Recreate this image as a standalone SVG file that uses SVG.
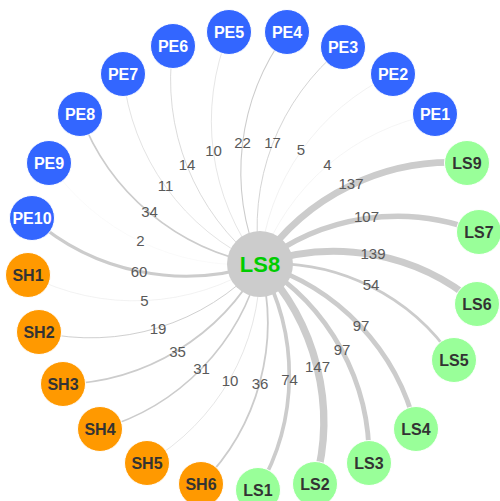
<svg xmlns="http://www.w3.org/2000/svg" width="500" height="501" viewBox="0 0 500 501">
<style>
.e{fill:none;stroke:#cccccc}
.el{font-family:"Liberation Sans",Arial,sans-serif;font-size:15px;fill:#595959;text-anchor:middle}
.n circle{stroke:#ffffff;stroke-width:1}
.n text{font-family:"Liberation Sans",Arial,sans-serif;font-size:16px;font-weight:bold;text-anchor:middle}
.pe circle{fill:#3366ff}.pe text{fill:#ffffff}
.sh circle{fill:#ff9900}.sh text{fill:#333333}
.ls circle{fill:#99ff99}.ls text{fill:#333333}
</style>
<rect width="500" height="501" fill="#ffffff"/>
<g id="connectors">
<path class="e" stroke-width="0.2" d="M260,264 A230.5,230.5 0 0,1 435,114"/>
<path class="e" stroke-width="0.25" d="M260,264 A231.9,231.9 0 0,1 393,74"/>
<path class="e" stroke-width="0.85" d="M260,264 A232.3,232.3 0 0,1 343,47"/>
<path class="e" stroke-width="1.1" d="M260,264 A233.6,233.6 0 0,1 287,32"/>
<path class="e" stroke-width="0.5" d="M260,264 A234.1,234.1 0 0,1 229,32"/>
<path class="e" stroke-width="0.7" d="M260,264 A234.7,234.7 0 0,1 173,46"/>
<path class="e" stroke-width="0.55" d="M260,264 A234.2,234.2 0 0,1 123,74"/>
<path class="e" stroke-width="1.7" d="M260,264 A234.3,234.3 0 0,1 80,114"/>
<path class="e" stroke-width="0.1" d="M260,264 A233.9,233.9 0 0,1 49,163"/>
<path class="e" stroke-width="3" d="M260,264 A232.6,232.6 0 0,1 32,218"/>
<path class="e" stroke-width="0.25" d="M260,264 A232.3,232.3 0 0,1 28,275"/>
<path class="e" stroke-width="0.95" d="M260,264 A231.2,231.2 0 0,1 39,332"/>
<path class="e" stroke-width="1.75" d="M260,264 A230.7,230.7 0 0,1 63,384"/>
<path class="e" stroke-width="1.55" d="M260,264 A229.8,229.8 0 0,1 100,429"/>
<path class="e" stroke-width="0.5" d="M260,264 A228.8,228.8 0 0,1 147,463"/>
<path class="e" stroke-width="1.8" d="M260,264 A227.8,227.8 0 0,1 201,484"/>
<path class="e" stroke-width="3.7" d="M260,264 A226,226 0 0,1 258,490"/>
<path class="e" stroke-width="7.35" d="M260,264 A226.8,226.8 0 0,1 315,484"/>
<path class="e" stroke-width="4.85" d="M260,264 A226.9,226.9 0 0,1 369,463"/>
<path class="e" stroke-width="4.85" d="M260,264 A227.1,227.1 0 0,1 416,429"/>
<path class="e" stroke-width="2.7" d="M260,264 A216.5,216.5 0 0,1 454,360"/>
<path class="e" stroke-width="6.95" d="M260,264 A220.7,220.7 0 0,1 477,304"/>
<path class="e" stroke-width="5.35" d="M260,264 A221.3,221.3 0 0,1 479,232"/>
<path class="e" stroke-width="6.85" d="M260,264 A230.3,230.3 0 0,1 467,163"/>
</g>
<g id="edge-labels">
<text class="el" x="327.5" y="170">4</text>
<text class="el" x="301" y="155">5</text>
<text class="el" x="272.5" y="148">17</text>
<text class="el" x="242.5" y="148">22</text>
<text class="el" x="213.5" y="155.5">10</text>
<text class="el" x="187" y="170">14</text>
<text class="el" x="165.5" y="191">11</text>
<text class="el" x="149.5" y="216.5">34</text>
<text class="el" x="140.5" y="245.5">2</text>
<text class="el" x="139" y="277">60</text>
<text class="el" x="144.5" y="306">5</text>
<text class="el" x="158" y="334">19</text>
<text class="el" x="177.5" y="357">35</text>
<text class="el" x="201.5" y="374">31</text>
<text class="el" x="230" y="386">10</text>
<text class="el" x="260" y="389">36</text>
<text class="el" x="289.5" y="385">74</text>
<text class="el" x="317.5" y="372">147</text>
<text class="el" x="342" y="354.5">97</text>
<text class="el" x="361" y="331">97</text>
<text class="el" x="371" y="290">54</text>
<text class="el" x="373" y="259">139</text>
<text class="el" x="366.5" y="222">107</text>
<text class="el" x="351" y="189">137</text>
</g>
<g id="LS8"><circle cx="260" cy="264" r="33" fill="#cccccc"/><text x="260" y="272" font-family="Liberation Sans,Arial,sans-serif" font-size="22" font-weight="bold" fill="#00cc00" text-anchor="middle">LS8</text></g>
<g id="PE1" class="n pe"><circle cx="435" cy="114" r="22.5"/><text x="435" y="119.5">PE1</text></g>
<g id="PE2" class="n pe"><circle cx="393" cy="74" r="22.5"/><text x="393" y="79.5">PE2</text></g>
<g id="PE3" class="n pe"><circle cx="343" cy="47" r="22.5"/><text x="343" y="52.5">PE3</text></g>
<g id="PE4" class="n pe"><circle cx="287" cy="32" r="22.5"/><text x="287" y="37.5">PE4</text></g>
<g id="PE5" class="n pe"><circle cx="229" cy="32" r="22.5"/><text x="229" y="37.5">PE5</text></g>
<g id="PE6" class="n pe"><circle cx="173" cy="46" r="22.5"/><text x="173" y="51.5">PE6</text></g>
<g id="PE7" class="n pe"><circle cx="123" cy="74" r="22.5"/><text x="123" y="79.5">PE7</text></g>
<g id="PE8" class="n pe"><circle cx="80" cy="114" r="22.5"/><text x="80" y="119.5">PE8</text></g>
<g id="PE9" class="n pe"><circle cx="49" cy="163" r="22.5"/><text x="49" y="168.5">PE9</text></g>
<g id="PE10" class="n pe"><circle cx="32" cy="218" r="22.5"/><text x="32" y="223.5">PE10</text></g>
<g id="SH1" class="n sh"><circle cx="28" cy="275" r="22.5"/><text x="28" y="280.5">SH1</text></g>
<g id="SH2" class="n sh"><circle cx="39" cy="332" r="22.5"/><text x="39" y="337.5">SH2</text></g>
<g id="SH3" class="n sh"><circle cx="63" cy="384" r="22.5"/><text x="63" y="389.5">SH3</text></g>
<g id="SH4" class="n sh"><circle cx="100" cy="429" r="22.5"/><text x="100" y="434.5">SH4</text></g>
<g id="SH5" class="n sh"><circle cx="147" cy="463" r="22.5"/><text x="147" y="468.5">SH5</text></g>
<g id="SH6" class="n sh"><circle cx="201" cy="484" r="22.5"/><text x="201" y="489.5">SH6</text></g>
<g id="LS1" class="n ls"><circle cx="258" cy="490" r="22.5"/><text x="258" y="495.5">LS1</text></g>
<g id="LS2" class="n ls"><circle cx="315" cy="484" r="22.5"/><text x="315" y="489.5">LS2</text></g>
<g id="LS3" class="n ls"><circle cx="369" cy="463" r="22.5"/><text x="369" y="468.5">LS3</text></g>
<g id="LS4" class="n ls"><circle cx="416" cy="429" r="22.5"/><text x="416" y="434.5">LS4</text></g>
<g id="LS5" class="n ls"><circle cx="454" cy="360" r="22.5"/><text x="454" y="365.5">LS5</text></g>
<g id="LS6" class="n ls"><circle cx="477" cy="304" r="22.5"/><text x="477" y="309.5">LS6</text></g>
<g id="LS7" class="n ls"><circle cx="479" cy="232" r="22.5"/><text x="479" y="237.5">LS7</text></g>
<g id="LS9" class="n ls"><circle cx="467" cy="163" r="22.5"/><text x="467" y="168.5">LS9</text></g>
</svg>
